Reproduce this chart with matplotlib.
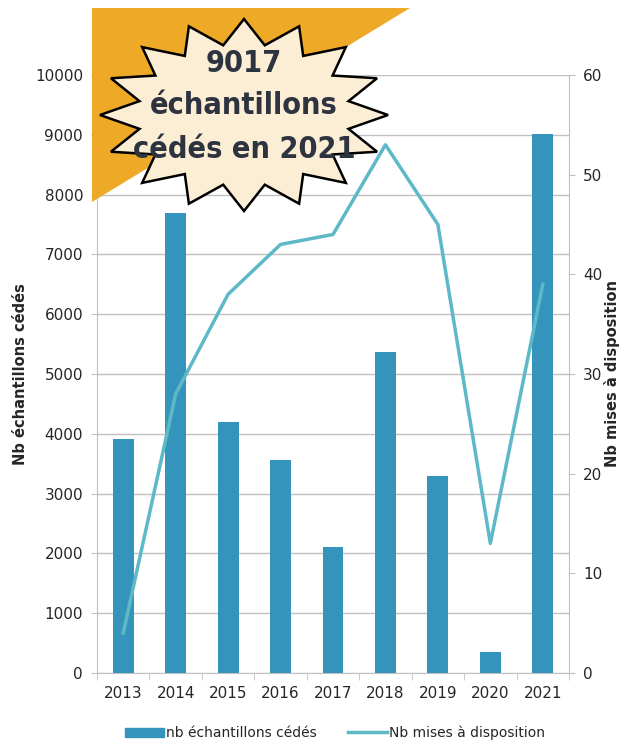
import numpy as np
import matplotlib
matplotlib.use("Agg")
import matplotlib.pyplot as plt
from matplotlib.patches import Polygon
from matplotlib.lines import Line2D
from matplotlib.patches import Patch
from matplotlib import font_manager

years = ["2013", "2014", "2015", "2016", "2017", "2018", "2019", "2020", "2021"]
echantillons = [3920, 7700, 4200, 3560, 2100, 5370, 3300, 350, 9017]
mises = [4, 28, 38, 43, 44, 53, 45, 13, 39]
left_ticks = list(range(0, 10001, 1000))
right_ticks = list(range(0, 61, 10))

BAR = "#3594BC"
LINE = "#5DB9C7"
GRID = "#C0C0C0"
TXT = "#262626"

W, H = 636, 743
fig = plt.figure(figsize=(W / 100, H / 100), dpi=100)
ax = fig.add_axes([97 / W, 1 - 673 / H, (569 - 97) / W, (673 - 75) / H])
x = np.arange(len(years))
ax.bar(x, echantillons, width=0.4, color=BAR, zorder=3)
ax.set_xlim(-0.5, len(years) - 0.5)
ax.set_ylim(0, 10000)
ax.set_yticks(left_ticks)
ax.set_yticklabels([str(t) for t in left_ticks])
ax.set_xticks(x)
ax.set_xticklabels(years)
ax.set_xticks(np.arange(-0.5, len(years)), minor=True)
ax.tick_params(axis="x", which="major", length=0, pad=9, labelsize=11, colors=TXT)
ax.tick_params(axis="x", which="minor", length=5, color=GRID)
ax.tick_params(axis="y", length=4, color=GRID, labelsize=11, colors=TXT, pad=6)
ax.grid(axis="y", color=GRID, linewidth=1, zorder=0)
for s in ["top", "right"]:
    ax.spines[s].set_visible(False)
for s in ["left", "bottom"]:
    ax.spines[s].set_color(GRID)
ax.set_ylabel("Nb échantillons cédés", fontsize=10.5, fontweight="bold", color=TXT, labelpad=5)

ax2 = ax.twinx()
ax2.plot(x, mises, color=LINE, linewidth=2.5, zorder=4)
ax2.set_ylim(0, 60)
ax2.set_yticks(right_ticks)
ax2.tick_params(axis="y", length=4, color=GRID, labelsize=11, colors=TXT, pad=6)
for s in ["top", "left", "bottom"]:
    ax2.spines[s].set_visible(False)
ax2.spines["right"].set_color(GRID)
ax2.set_ylabel("Nb mises à disposition", fontsize=10.5, fontweight="bold", color=TXT,
               rotation=90, labelpad=1)

handles = [Patch(color=BAR), Line2D([0], [0], color=LINE, linewidth=2.5)]
fig.legend(handles, ["nb échantillons cédés", "Nb mises à disposition"],
           loc="center", bbox_to_anchor=(335 / W, 1 - 733 / H), ncol=2, frameon=False,
           fontsize=10, handlelength=2.8, columnspacing=2.2, handletextpad=0.2,
           labelcolor=TXT)

# decorative overlay (pixel coordinates)
ov = fig.add_axes([0, 0, 1, 1], facecolor="none")
ov.set_xlim(0, W)
ov.set_ylim(H, 0)
ov.axis("off")
ov.add_patch(Polygon([(92, 8), (410, 8), (92, 202)], closed=True, facecolor="#EEA927",
                     edgecolor="none"))
cx, cy, a, b = 244, 115, 144, 96
n = 16
pts = []
for i in range(2 * n):
    ang = -np.pi / 2 + i * np.pi / n
    r = 1.0 if i % 2 == 0 else 0.74
    pts.append((cx + a * r * np.cos(ang), cy + b * r * np.sin(ang)))
ov.add_patch(Polygon(pts, closed=True, facecolor="#FCEED5", edgecolor="black", linewidth=1.8))
fp = font_manager.FontProperties(family="DejaVu Sans", weight="bold", stretch="condensed", size=22)
for txt, yy in [("9017", 63), ("échantillons", 106), ("cédés en 2021", 150)]:
    ov.text(cx, yy, txt, ha="center", va="center", fontproperties=fp, color="#2E3340")

fig.savefig("out.png", dpi=100)
